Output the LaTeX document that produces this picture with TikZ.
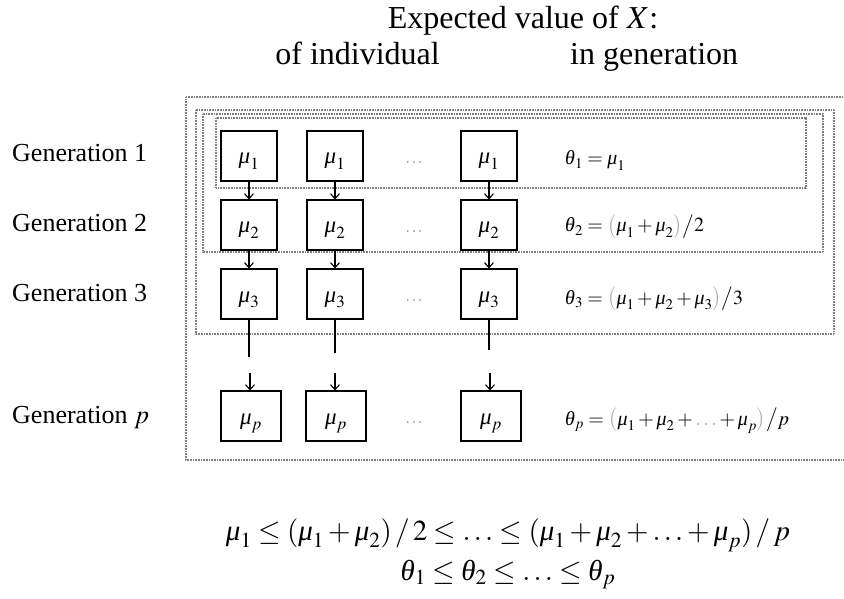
\documentclass[tikz,border=0pt]{standalone}
\usepackage{mathptmx}
\usepackage{fontspec}
\setmainfont{Liberation Serif}
\usetikzlibrary{arrows.meta,calc}
\newcommand{\gmu}{\mbox{\itshape μ}}
\newcommand{\gth}{\mbox{\itshape θ}}
\newcommand{\gp}[1]{{\color{gray!60}#1}}
\begin{document}
\begin{tikzpicture}[x=1pt,y=-1pt,
  cell/.style={draw, line width=1.1pt, minimum width=56pt, minimum height=50pt, inner sep=0pt,
    text height=16pt, text depth=0pt, font=\fontsize{23}{26}\selectfont},
  cellp/.style={cell, minimum width=60pt},
  frame/.style={draw=gray, line width=1.6pt, dash pattern=on 1pt off 0.6pt},
  link/.style={line width=1.1pt, -{Straight Barb[length=5pt,width=9pt,line width=1.1pt]}},
  plain/.style={line width=1.1pt},
  gen/.style={anchor=base west, inner sep=0pt, font=\fontsize{26}{30}\selectfont},
  head/.style={inner sep=0pt, font=\fontsize{32}{36}\selectfont},
  dotsn/.style={text=gray, inner sep=0pt, font=\fontsize{16}{20}\selectfont},
  eq/.style={anchor=base west, inner sep=0pt, font=\fontsize{20}{24}\selectfont},
  big/.style={anchor=base, inner sep=0pt, font=\fontsize{29}{33}\selectfont}]
\useasboundingbox (0,0) rectangle (844,599);

% header
\node[head, anchor=base] (t1) at (523,29) {Expected value of $X$:};
\node[head, anchor=base east] (t2) at (440,65) {of individual};
\node[head, anchor=base west] (t3) at (570,65) {in generation};

% dotted frames
\draw[frame] (186,97) -- (850,97);
\draw[frame] (850,460) -- (186,460) -- (186,97);
\draw[frame] (196,110) rectangle (834,334);
\draw[frame] (203,114) rectangle (823,252);
\draw[frame] (216,118) rectangle (806,188);

% generation labels
\node[gen] (g1) at (12,162) {Generation 1};
\node[gen] (g2) at (12,232) {Generation 2};
\node[gen] (g3) at (12,301) {Generation 3};
\node[gen] (gp) at (12,423) {Generation $p$};

% cells
\foreach \r/\y/\s in {1/156/1, 2/225/2, 3/294/3}{
  \node[cell] (a\r) at (249,\y) {$\gmu_{\s}$};
  \node[cell] (b\r) at (335,\y) {$\gmu_{\s}$};
  \node[cell] (c\r) at (489,\y) {$\gmu_{\s}$};
  \node[dotsn] (d\r) at (414,{\y+7}) {$\cdots$};
}
\node[cellp] (ap) at (251,416) {$\gmu_p$};
\node[cellp] (bp) at (336,416) {$\gmu_p$};
\node[cellp] (cp) at (491,416) {$\gmu_p$};
\node[dotsn] (dp) at (414,423) {$\cdots$};

% arrows
\foreach \c in {a,b,c}{
  \draw[link] (\c1) -- (\c2);
  \draw[link] (\c2) -- (\c3);
}
\coordinate (ea) at ($(a3.south)+(0,37)$);
\coordinate (eb) at ($(b3.south)+(0,33)$);
\coordinate (ec) at ($(c3.south)+(0,30)$);
\coordinate (sa) at ($(ap.north)+(-1,-17)$);
\coordinate (sb) at ($(bp.north)+(-1,-17)$);
\coordinate (sc) at ($(cp.north)+(-1,-17)$);
\draw[plain] (a3.south) -- (ea);
\draw[plain] (b3.south) -- (eb);
\draw[plain] (c3.south) -- (ec);
\draw[link] (sa) -- (sa |- ap.north);
\draw[link] (sb) -- (sb |- bp.north);
\draw[link] (sc) -- (sc |- cp.north);

% theta formulas
\node[eq] (e1) at (565,165) {$\gth_1 = \gmu_1$};
\node[eq] (e2) at (565,232) {$\gth_2 = \gp{\bigl(}\gmu_1+\gmu_2\gp{\bigr)}\big/2$};
\node[eq] (e3) at (565,304) {$\gth_3 = \gp{\bigl(}\gmu_1+\gmu_2+\gmu_3\gp{\bigr)}\big/3$};
\node[eq] (ep) at (565,425) {$\gth_p = \gp{\bigl(}\gmu_1+\gmu_2+\gp{\ldots}+\gmu_p\gp{\bigr)}\big/p$};

% bottom inequalities
\node[big] (i1) at (508,540) {$\gmu_1 \le (\gmu_1+\gmu_2)\,/\,2 \le \ldots \le (\gmu_1+\gmu_2+\ldots+\gmu_p)\,/\,p$};
\node[big] (i2) at (508,580) {$\gth_1 \le \gth_2 \le \ldots \le \gth_p$};
\end{tikzpicture}
\end{document}
